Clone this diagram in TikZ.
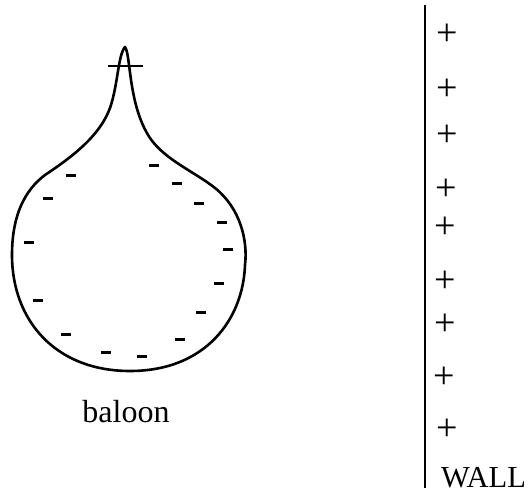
\documentclass[tikz,border=0pt]{standalone}
\usepackage{fontspec}
\setmainfont{Liberation Serif}
\begin{document}
\begin{tikzpicture}[x=1pt,y=-1pt,
    outline/.style={line width=2.6pt, line join=round, line cap=round},
    minus/.style={line width=3pt},
    wallline/.style={line width=2.6pt},
    charge/.style={inner sep=0pt, font=\fontsize{38}{40}\selectfont},
    label/.style={inner sep=0pt, font=\fontsize{32}{34}\selectfont}]
  \useasboundingbox (0,0) rectangle (528,495);

  % balloon outline: narrow neck flaring into a round body
  \draw[outline] (125,47)
    .. controls (131,55) and (128,105) .. (150,138)
    .. controls (165,160) and (195,172) .. (215,188)
    .. controls (240,208) and (248,240) .. (245,265)
    .. controls (243,320) and (205,371) .. (130,371)
    .. controls (55,371) and (12,320) .. (12,255)
    .. controls (12,215) and (25,190) .. (45,175)
    .. controls (75,155) and (100,135) .. (110,108)
    .. controls (118,85) and (118,55) .. (125,47) -- cycle;

  % crossbar of the plus at the tip
  \draw[outline, line cap=butt] (108,66) coordinate (tipl) -- (143,66) coordinate (tipr);

  % negative charges on the balloon
  \foreach \x/\y in {71/175, 48/198, 29/242, 38/300, 66/334, 106/352,
                     142/356, 180/339, 201/312, 219/283, 228/249, 222/222,
                     199/203, 177/183, 154/165}
    \draw[minus] (\x-5,\y) -- (\x+5,\y);

  \node[label, anchor=base] (baloon) at (126,422) {baloon};

  % the wall and its positive charges
  \draw[wallline] (425,5) coordinate (walltop) -- (425,488) coordinate (wallbot);
  \foreach \y/\x [count=\i] in {35/447, 90/447, 136/447, 190/446, 228/445,
                     282/445, 325/445, 378/444, 430/447}
    \node[charge] (p\i) at (\x,\y) {+};

  \node[label, font=\fontsize{30.5}{32}\selectfont, anchor=base west] (wall) at (441,487) {WALL};
\end{tikzpicture}
\end{document}
